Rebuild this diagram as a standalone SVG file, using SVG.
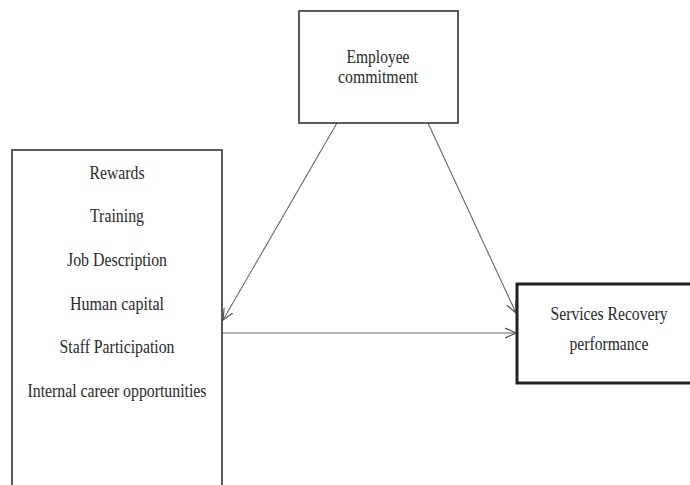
<svg xmlns="http://www.w3.org/2000/svg" width="690" height="485" viewBox="0 0 690 485">
  <style>
    .box { fill: #ffffff; stroke: #333333; stroke-width: 1.6; }
    .box-bold { fill: #ffffff; stroke: #222222; stroke-width: 3; }
    .label { font-family: "Liberation Serif", "Times New Roman", serif; font-size: 19px; fill: #2a2a2a; text-anchor: middle; }
    .link { stroke: #666666; stroke-width: 1.1; fill: none; marker-end: url(#open-arrow); }
  </style>
  <defs>
    <marker id="open-arrow" viewBox="0 0 12 12" refX="11" refY="6" markerWidth="12" markerHeight="12" markerUnits="userSpaceOnUse" orient="auto">
      <path d="M0,1 L11,6 L0,11" fill="none" stroke="#555555" stroke-width="1.2"/>
    </marker>
  </defs>
  <rect width="690" height="485" fill="#ffffff"/>

  <g id="connectors">
    <line class="link" x1="337" y1="123" x2="223" y2="320"/>
    <line class="link" x1="428" y1="123" x2="516" y2="313"/>
    <line class="link" x1="222" y1="333" x2="516" y2="333"/>
  </g>

  <g id="node-employee-commitment">
    <rect class="box" x="299" y="11" width="159" height="112"/>
    <text class="label" x="378" y="63" textLength="63" lengthAdjust="spacingAndGlyphs">Employee</text>
    <text class="label" x="378" y="83" textLength="80" lengthAdjust="spacingAndGlyphs">commitment</text>
  </g>

  <g id="node-hr-practices">
    <rect class="box" x="12" y="150" width="210" height="340"/>
    <text class="label" x="117" y="179" textLength="55" lengthAdjust="spacingAndGlyphs">Rewards</text>
    <text class="label" x="117" y="222" textLength="54" lengthAdjust="spacingAndGlyphs">Training</text>
    <text class="label" x="117" y="266" textLength="100" lengthAdjust="spacingAndGlyphs">Job Description</text>
    <text class="label" x="117" y="310" textLength="94" lengthAdjust="spacingAndGlyphs">Human capital</text>
    <text class="label" x="117" y="353" textLength="115" lengthAdjust="spacingAndGlyphs">Staff Participation</text>
    <text class="label" x="117" y="397" textLength="179" lengthAdjust="spacingAndGlyphs">Internal career opportunities</text>
  </g>

  <g id="node-services-recovery">
    <rect class="box-bold" x="517" y="284" width="176" height="99"/>
    <text class="label" x="609" y="320" textLength="117" lengthAdjust="spacingAndGlyphs">Services Recovery</text>
    <text class="label" x="609" y="350" textLength="79" lengthAdjust="spacingAndGlyphs">performance</text>
  </g>
</svg>
